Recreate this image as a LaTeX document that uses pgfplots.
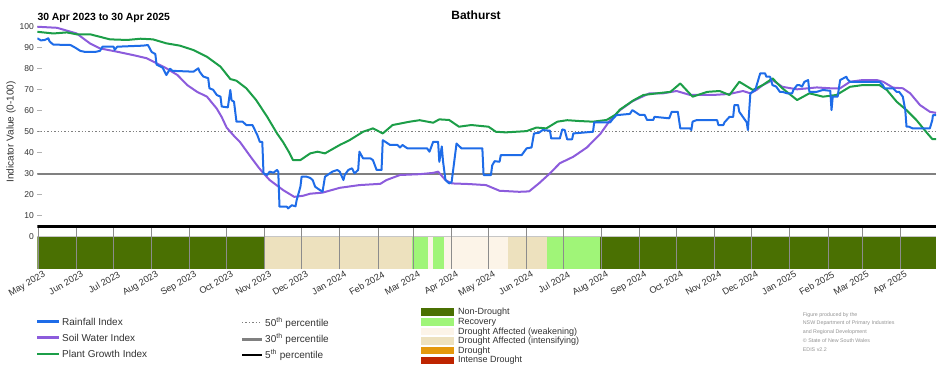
\documentclass[border=0pt]{standalone}
\usepackage{fontspec}
\setmainfont{Liberation Sans}
\usepackage{pgfplots}
\pgfplotsset{compat=1.18}
\definecolor{rainc}{RGB}{30,108,232}
\definecolor{soilc}{RGB}{140,92,220}
\definecolor{plantc}{RGB}{28,158,72}
\definecolor{nond}{RGB}{74,112,2}
\definecolor{recov}{RGB}{160,245,120}
\definecolor{weak}{RGB}{252,244,232}
\definecolor{inten}{RGB}{237,225,190}
\definecolor{drought}{RGB}{228,152,12}
\definecolor{intense}{RGB}{190,36,0}
\definecolor{txt}{RGB}{50,50,50}
\definecolor{pct}{RGB}{128,128,128}
\begin{document}
\begin{tikzpicture}
\useasboundingbox (0,0) rectangle (952pt,370pt);
\begin{axis}[
  at={(37.3pt,100.7pt)}, anchor=south west,
  scale only axis, width=898.7pt, height=244.65pt,
  xmin=0, xmax=731, ymin=-15.5, ymax=101,
  axis line style={draw=none},
  /pgf/number format/assume math mode=true,
  ytick={0,10,...,100},
  ytick pos=left, tick align=inside, major tick length=5pt,
  ytick style={draw=gray!60, line width=0.6pt},
  yticklabel style={font=\fontsize{8.5}{9}\selectfont, text=txt},
  xtick={1,32,62,93,124,154,185,215,246,277,306,337,367,398,428,459,490,520,551,581,612,643,671,702},
  xticklabels={May 2023,Jun 2023,Jul 2023,Aug 2023,Sep 2023,Oct 2023,Nov 2023,Dec 2023,Jan 2024,Feb 2024,Mar 2024,Apr 2024,May 2024,Jun 2024,Jul 2024,Aug 2024,Sep 2024,Oct 2024,Nov 2024,Dec 2024,Jan 2025,Feb 2025,Mar 2025,Apr 2025},
  xtick style={draw=none},
  xticklabel style={rotate=30, anchor=north east, font=\fontsize{9.2}{10}\selectfont, text=txt, inner sep=1pt, yshift=-2pt, xshift=4pt},
  line join=round,
]
% drought category strip
\addplot[draw=none, fill=nond] coordinates {(0,0)(185,0)(185,-15.5)(0,-15.5)} -- cycle;
\addplot[draw=none, fill=inten] coordinates {(185,0)(305,0)(305,-15.5)(185,-15.5)} -- cycle;
\addplot[draw=none, fill=recov] coordinates {(305,0)(317.7,0)(317.7,-15.5)(305,-15.5)} -- cycle;
\addplot[draw=none, fill=weak] coordinates {(317.7,0)(322,0)(322,-15.5)(317.7,-15.5)} -- cycle;
\addplot[draw=none, fill=recov] coordinates {(322,0)(330.7,0)(330.7,-15.5)(322,-15.5)} -- cycle;
\addplot[draw=none, fill=weak] coordinates {(330.7,0)(382.5,0)(382.5,-15.5)(330.7,-15.5)} -- cycle;
\addplot[draw=none, fill=inten] coordinates {(382.5,0)(414.5,0)(414.5,-15.5)(382.5,-15.5)} -- cycle;
\addplot[draw=none, fill=recov] coordinates {(414.5,0)(457.6,0)(457.6,-15.5)(414.5,-15.5)} -- cycle;
\addplot[draw=none, fill=nond] coordinates {(457.6,0)(731,0)(731,-15.5)(457.6,-15.5)} -- cycle;
\addplot[gray!45, line width=0.6pt] coordinates {(0,0)(731,0)};
\pgfplotsinvokeforeach{1,32,62,93,124,154,185,215,246,277,306,337,367,398,428,459,490,520,551,581,612,643,671,702}{
  \draw[black!45, line width=0.6pt] (axis cs:#1,-15.5) -- (axis cs:#1,4);
}
% percentile lines
\addplot[pct, line width=1.4pt, dash pattern=on 1.4pt off 2pt] coordinates {(0,50)(731,50)};
\addplot[pct, line width=1.8pt] coordinates {(0,30)(731,30)};
\addplot[black, line width=2.6pt] coordinates {(0,5)(731,5)};
% Soil Water Index
\addplot[soilc, line width=2pt] coordinates {
(0,100)(16,99.5)(32,96.8)(43,92)(51,89.7)(65,88.1)(78,86.5)(89,85)(97,82.6)(105,80.2)(114,77)(122,72.2)(130,69)(138,66.7)(146,61)(150,57)(154,52)(160,48)(165,45)(173,38.5)(180,33)(184,30.2)(189,27)(200,22.2)(209,19)(216,19.5)(222,20.5)(232,21)(246,23.3)(262,24.6)(279,25.2)(284,27)(295,29.4)(311,29.8)(322,30.4)(326,31)(332,27)(337,25.4)(351,25.1)(365,24.6)(376,21.9)(392,21.4)(400,21.6)(408,25.4)(417,30.2)(425,35)(436,38.1)(447,42.5)(458,49)(466,55.6)(474,60.3)(484,64.5)(492,66.7)(498,68.3)(509,68.3)(520,69.4)(531,67.5)(549,67.5)(563,68)(574,69.4)(580,68.3)(585,69.9)(590,72.2)(598,74.6)(606,71.4)(618,70.2)(634,71.1)(645,70.7)(653,70.7)(661,73.8)(671,74.6)(683,74.6)(688,73.8)(696,71)(704,70.7)(710,68.3)(718,62.7)(726,59.5)(731,59)
};
% Plant Growth Index
\addplot[plantc, line width=2pt] coordinates {
(0,97.6)(13,96.8)(24,97.3)(32,96.4)(43,96.4)(59,94)(73,93.7)(84,94.3)(94,94)(105,92.1)(116,91)(127,88.9)(138,85.7)(149,81)(157,75.1)(162,74.3)(170,70.7)(178,65.1)(187,57.1)(195,49.2)(200,45)(205,40)(208,36.5)(214,36.5)(222,39.7)(228,40.5)(234,39.7)(246,43.7)(254,46)(265,50)(273,51.6)(281,49.2)(289,53.2)(303,54.8)(311,55.5)(322,54.3)(327,55.9)(335,55.6)(343,52.4)(353,53.2)(367,52.4)(373,50)(381,49.7)(398,50.3)(406,52)(414,51.6)(423,54.8)(431,55.5)(441,55.1)(452,54.8)(463,55.6)(470,58)(474,60.6)(485,65)(493,67.5)(504,68.3)(515,69)(523,73)(533,66.7)(545,69)(555,69.4)(563,67.5)(571,73.8)(582,69.9)(590,72.2)(598,75.4)(606,70.7)(618,65.1)(628,68.3)(639,66.7)(650,67.5)(661,71.4)(671,72.2)(685,72.2)(691,69.9)(699,64.3)(707,60.3)(715,55.6)(724,49.2)(728,46.5)(731,46.5)
};
% Rainfall Index
\addplot[rainc, line width=2pt] coordinates {
(0,94.5)(3,93.5)(6,93.7)(9,94.5)(10,93)(13,91.5)(27,91.3)(31,90)(35,88.5)(39,88)(47,88)(51,88.5)(53,90.5)(62,90.5)(63,89)(65,90.5)(86,91)(90,91.3)(93,88)(96,87)(97,82)(102,80.5)(105,77)(108,80)(110,79)(127,78.6)(131,80.2)(132,78.6)(135,76.3)(139,75.5)(140,70.7)(143,70)(146,67.5)(149,66.7)(150,62)(155,61.6)(157,69.9)(158,65)(160,64.3)(162,54.8)(167,54.8)(170,53.2)(175,53.2)(179,48.4)(181,45.2)(183,45.2)(184,30.2)(187,29.4)(189,31)(192,30.5)(195,31.8)(196,31)(197,14.3)(203,14.3)(204,13.5)(207,15)(210,14.5)(211,17.5)(214,23.8)(215,28.6)(219,28.6)(222,28)(224,27)(226,23.8)(232,21.4)(234,28.6)(236,29.4)(240,31)(244,31.8)(246,31)(249,27)(250,29.4)(253,31.8)(256,32.6)(258,30.2)(261,31.8)(262,40.5)(265,37.3)(271,37.3)(273,36.5)(276,31.8)(280,31.8)(281,46)(287,43.7)(293,43.7)(295,42.5)(297,43.7)(301,42.1)(317,42.1)(319,40.5)(322,45.2)(326,45.2)(327,35.7)(329,43)(330,36)(332,27)(335,25.4)(337,26)(341,44.4)(345,42.1)(362,42.1)(363,29.4)(369,29.4)(370,34)(372,36)(376,35.7)(377,38.9)(394,38.9)(398,42.1)(402,42.5)(404,49.2)(408,49.5)(411,50.8)(417,50.5)(418,46.8)(425,46.8)(427,51.1)(429,50.8)(431,46.4)(435,46.4)(436,49.2)(452,50)(453,54.5)(466,54.5)(468,56)(471,57.9)(482,58.5)(484,60.3)(490,58)(494,58)(496,55.6)(501,55.6)(502,57.1)(514,56.4)(516,59.5)(521,59.5)(523,51.6)(531,51.6)(532,50.8)(533,54.8)(536,55.5)(553,55.5)(554,53.2)(558,53.2)(559,54.5)(563,57.1)(566,57.1)(567,62.7)(570,62.7)(571,59.5)(574,57)(577,54.5)(578,50.8)(580,68.3)(584,69.9)(588,77.8)(592,77.8)(593,76.2)(596,76.2)(598,72.2)(601,71.5)(604,69)(606,69)(610,68.3)(614,68.3)(615,69.9)(618,72.2)(620,72.2)(622,71.5)(624,73.8)(627,74.6)(628,69)(634,69)(639,69.9)(645,69.5)(646,60.3)(647,66.7)(651,66.7)(653,74.6)(658,76.2)(659,75)(661,73.8)(685,73.8)(688,72)(689,70.7)(696,70.7)(699,69)(701,69)(704,66.7)(706,60.3)(707,52.4)(709,52.4)(712,51.6)(726,51.6)(728,55.6)(728.5,57.9)(731,57.9)
};
\end{axis}
% titles
\node[font=\bfseries\fontsize{12}{12}\selectfont] at (476pt,355pt) {Bathurst};
\node[anchor=west, inner sep=0pt, font=\bfseries\fontsize{10.4}{11}\selectfont] at (37.3pt,351.7pt) {30 Apr 2023 to 30 Apr 2025};
\node[rotate=90, font=\fontsize{10}{10}\selectfont, text=txt] at (11pt,238pt) {Indicator Value (0-100)};
% legend group 1
\draw[rainc, line width=2.6pt] (37pt,48.3pt) -- (59pt,48.3pt);
\node[anchor=west, inner sep=0pt, font=\fontsize{10}{10}\selectfont, text=txt] at (62pt,48.3pt) {Rainfall Index};
\draw[soilc, line width=2.6pt] (37pt,32.3pt) -- (59pt,32.3pt);
\node[anchor=west, inner sep=0pt, font=\fontsize{10}{10}\selectfont, text=txt] at (62pt,32.3pt) {Soil Water Index};
\draw[plantc, line width=2.6pt] (37pt,16pt) -- (59pt,16pt);
\node[anchor=west, inner sep=0pt, font=\fontsize{10}{10}\selectfont, text=txt] at (62pt,16pt) {Plant Growth Index};
% legend group 2
\draw[pct, line width=1.4pt, dash pattern=on 1.4pt off 2pt] (242pt,47.3pt) -- (262pt,47.3pt);
\node[anchor=west, inner sep=0pt, font=\fontsize{10}{10}\selectfont, text=txt] at (265pt,47.3pt) {50\textsuperscript{th} percentile};
\draw[pct, line width=2.4pt] (242pt,30.7pt) -- (262pt,30.7pt);
\node[anchor=west, inner sep=0pt, font=\fontsize{10}{10}\selectfont, text=txt] at (265pt,30.7pt) {30\textsuperscript{th} percentile};
\draw[black, line width=2.4pt] (242pt,15pt) -- (262pt,15pt);
\node[anchor=west, inner sep=0pt, font=\fontsize{10}{10}\selectfont, text=txt] at (265pt,15pt) {5\textsuperscript{th} percentile};
% legend group 3
\foreach \c/\t/\yy in {nond/Non-Drought/58, recov/Recovery/48, weak/Drought Affected (weakening)/38.3, inten/Drought Affected (intensifying)/29, drought/Drought/19.3, intense/Intense Drought/9.7}{
  \fill[\c] (421pt,\yy pt-3.6pt) rectangle (454.3pt,\yy pt+3.6pt);
  \node[anchor=west, inner sep=0pt, font=\fontsize{9}{9}\selectfont, text=txt] at (458pt,\yy pt) {\t};
}
% credits
\node[anchor=north west, inner sep=0pt, align=left, font=\fontsize{5.3}{8.7}\selectfont, text=gray!85] at (802.7pt,57.8pt) {Figure produced by the\\NSW Department of Primary Industries\\and Regional Development\\\textcopyright\ State of New South Wales\\EDIS v2.2};
\end{tikzpicture}
\end{document}
